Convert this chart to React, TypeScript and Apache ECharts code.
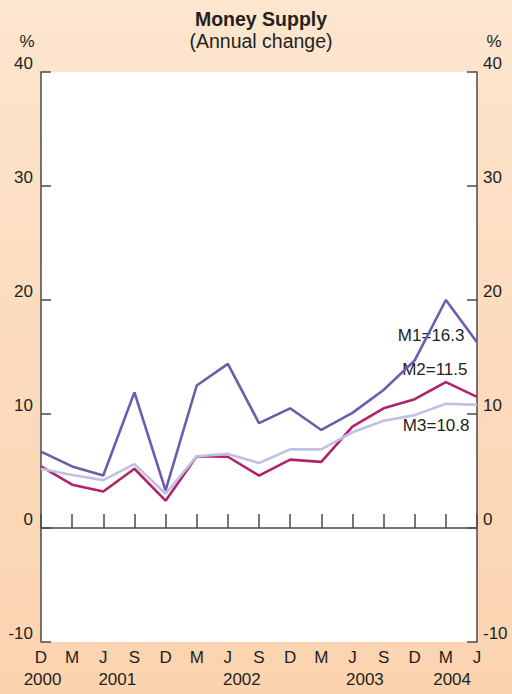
import React, { useEffect, useRef } from "react";
import * as echarts from "echarts";

const monthLabels = ["D", "M", "J", "S", "D", "M", "J", "S", "D", "M", "J", "S", "D", "M", "J"];
const yearLabels = ["2000", "2001", "2002", "2003", "2004"];
const yearLabelPos = [0.05, 2.45, 6.45, 10.4, 13.2];
const yTicks = [-10, 0, 10, 20, 30, 40];

const m1 = [6.7, 5.4, 4.6, 11.9, 3.3, 12.5, 14.4, 9.2, 10.5, 8.6, 10.1, 12.1, 14.7, 20.0, 16.3];
const m2 = [5.4, 3.8, 3.2, 5.2, 2.4, 6.3, 6.25, 4.6, 6.0, 5.8, 8.9, 10.5, 11.3, 12.8, 11.5];
const m3 = [5.2, 4.65, 4.2, 5.6, 3.0, 6.3, 6.5, 5.7, 6.9, 6.9, 8.4, 9.4, 9.9, 10.9, 10.8];

const FONT = "'Liberation Sans', Arial, Helvetica, sans-serif";

function buildSeries(name: string, values: number[], color: string, offset: [number, number], z: number) {
  const lastIdx = values.length - 1;
  const last = values[lastIdx];
  return {
    name,
    type: "line",
    xAxisIndex: 0,
    yAxisIndex: 0,
    symbol: "none",
    z,
    lineStyle: { color, width: 2.6 },
    emphasis: { disabled: true },
    data: values.map((v, i) => [i, v]),
    markPoint: {
      silent: true,
      symbol: "circle",
      symbolSize: 1,
      itemStyle: { color: "rgba(0,0,0,0)" },
      data: [
        {
          coord: [lastIdx, last],
          label: {
            show: true,
            position: "left",
            distance: 5,
            offset,
            formatter: `${name}=${last.toFixed(1)}`,
            fontFamily: FONT,
            fontSize: 17,
            color: "#231f20",
          },
        },
      ],
    },
  };
}

export default function App() {
  const ref = useRef<HTMLDivElement>(null);
  useEffect(() => {
    document.body.style.margin = "0";
    const chart = echarts.init(ref.current!, null, { renderer: "svg" });
    const axisColor = "#4a4a4a";
    const labelStyle = { fontFamily: FONT, fontSize: 17, color: "#231f20" };
    chart.setOption({
      animation: false,
      backgroundColor: "transparent",
      textStyle: { fontFamily: FONT },
      grid: {
        left: 41,
        right: 35,
        top: 72,
        bottom: 52,
        show: true,
        backgroundColor: "#ffffff",
        borderWidth: 0,
      },
      graphic: [
        { type: "text", x: 261, y: 19, style: { text: "Money Supply", font: `bold 19.5px ${FONT}`, fill: "#231f20", textAlign: "center", textVerticalAlign: "middle" } },
        { type: "text", x: 261, y: 41, style: { text: "(Annual change)", font: `19.5px ${FONT}`, fill: "#231f20", textAlign: "center", textVerticalAlign: "middle" } },
        { type: "text", x: 27, y: 41, style: { text: "%", font: `17px ${FONT}`, fill: "#231f20", textAlign: "center", textVerticalAlign: "middle" } },
        { type: "text", x: 494, y: 41, style: { text: "%", font: `17px ${FONT}`, fill: "#231f20", textAlign: "center", textVerticalAlign: "middle" } },
      ],
      xAxis: [
        {
          type: "value",
          min: 0,
          max: monthLabels.length - 1,
          interval: 1,
          position: "bottom",
          axisLine: { show: true, onZero: true, lineStyle: { color: axisColor, width: 1.5 } },
          axisTick: { show: true, inside: true, length: 14, lineStyle: { color: axisColor, width: 1.5 } },
          axisLabel: { show: false },
          splitLine: { show: false },
        },
        {
          type: "value",
          min: 0,
          max: monthLabels.length - 1,
          interval: 1,
          position: "bottom",
          axisLine: { show: false, onZero: false },
          axisTick: { show: false },
          axisLabel: { ...labelStyle, margin: 7, formatter: (v: number) => monthLabels[v] ?? "" },
          splitLine: { show: false },
        },
        {
          type: "value",
          min: 0,
          max: monthLabels.length - 1,
          position: "bottom",
          offset: 22,
          axisLine: { show: false, onZero: false },
          axisTick: { show: false },
          axisLabel: {
            ...labelStyle,
            margin: 7,
            customValues: yearLabelPos,
            formatter: (v: number) => {
              const idx = yearLabelPos.findIndex((p) => Math.abs(p - v) < 1e-6);
              return idx >= 0 ? yearLabels[idx] : "";
            },
          },
          splitLine: { show: false },
        },
      ],
      yAxis: [
        {
          type: "value",
          position: "left",
          min: yTicks[0],
          max: yTicks[yTicks.length - 1],
          interval: 10,
          axisLine: { show: true, onZero: false, lineStyle: { color: axisColor, width: 1.5 } },
          axisTick: { show: true, inside: true, length: 10, lineStyle: { color: axisColor, width: 1.5 } },
          axisLabel: { ...labelStyle, margin: 8, verticalAlign: "bottom" },
          splitLine: { show: false },
        },
        {
          type: "value",
          position: "right",
          min: yTicks[0],
          max: yTicks[yTicks.length - 1],
          interval: 10,
          axisLine: { show: true, onZero: false, lineStyle: { color: axisColor, width: 1.5 } },
          axisTick: { show: true, inside: true, length: 10, lineStyle: { color: axisColor, width: 1.5 } },
          axisLabel: { ...labelStyle, margin: 6, verticalAlign: "bottom" },
          splitLine: { show: false },
        },
      ],
      series: [
        buildSeries("M2", m2, "#b0236b", [-4, -27], 3),
        buildSeries("M3", m3, "#c2c0e2", [-2, 21], 4),
        buildSeries("M1", m1, "#6a5dab", [-7, -7], 5),
      ],
    });
    return () => chart.dispose();
  }, []);
  return (
    <div
      ref={ref}
      style={{
        position: "fixed",
        left: 0,
        top: 0,
        width: 512,
        height: 694,
        background: "linear-gradient(180deg, #fde6cf 0%, #fcdcbf 45%, #fbd3af 100%)",
      }}
    />
  );
}
